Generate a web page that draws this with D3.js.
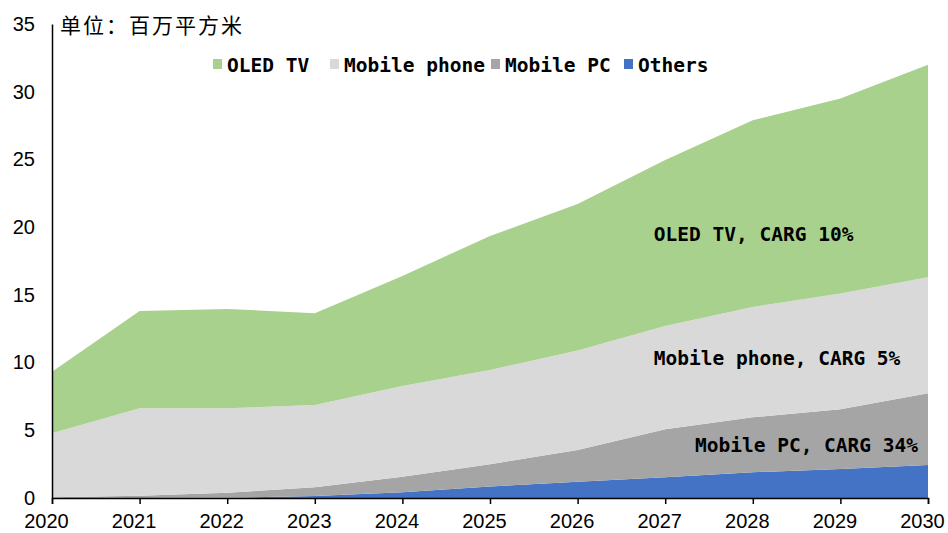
<!DOCTYPE html>
<html>
<head>
<meta charset="utf-8">
<script src="https://cdn.jsdelivr.net/npm/d3@7"></script>
<style>
  body { margin: 0; background: #fff; }
  svg { display: block; }
</style>
</head>
<body>
<svg></svg>
<script>
// years and series (million m2), stacked bottom -> top
const years = [2020, 2021, 2022, 2023, 2024, 2025, 2026, 2027, 2028, 2029, 2030];
const others = [0, 0, 0.02, 0.15, 0.42, 0.84, 1.2, 1.53, 1.9, 2.14, 2.44];
const mobilePC = [0.05, 0.17, 0.37, 0.64, 1.15, 1.65, 2.35, 3.54, 4.06, 4.41, 5.29];
const mobilePhone = [4.73, 6.45, 6.23, 6.08, 6.7, 6.96, 7.35, 7.63, 8.14, 8.55, 8.57];
const oledTV = [4.55, 7.18, 7.34, 6.77, 8.13, 9.9, 10.8, 12.26, 13.8, 14.4, 15.7];
const seriesNames = ["Others", "Mobile PC", "Mobile phone", "OLED TV"];
const legendOrder = ["OLED TV", "Mobile phone", "Mobile PC", "Others"];
const yTicks = [0, 5, 10, 15, 20, 25, 30, 35];
const notes = [
  { text: "OLED TV, CARG 10%", year: 2026.87, value: 19.0 },
  { text: "Mobile phone, CARG 5%", year: 2026.87, value: 9.8 },
  { text: "Mobile PC, CARG 34%", year: 2027.34, value: 3.4 }
];

const width = 948;
const height = 533;
const margin = { left: 52, right: 20, top: 24, bottom: 35 };
const colors = {
  "OLED TV": "#a9d18e",
  "Mobile phone": "#d9d9d9",
  "Mobile PC": "#a5a5a5",
  "Others": "#4472c4"
};
const monoFont = "'DejaVu Sans Mono', 'Liberation Mono', monospace";

const table = years.map((y, i) => ({
  year: y,
  "Others": others[i],
  "Mobile PC": mobilePC[i],
  "Mobile phone": mobilePhone[i],
  "OLED TV": oledTV[i]
}));

const svg = d3.select("svg").attr("width", width).attr("height", height);

const x = d3.scaleLinear()
  .domain([2020, 2030])
  .range([margin.left, width - margin.right]);

const y = d3.scaleLinear()
  .domain([0, 35])
  .range([height - margin.bottom, margin.top]);

const stack = d3.stack().keys(seriesNames);
const layers = stack(table);

const area = d3.area()
  .x(d => x(d.data.year))
  .y0(d => y(d[0]))
  .y1(d => y(d[1]));

svg.append("g")
  .selectAll("path")
  .data(layers)
  .join("path")
  .attr("fill", d => colors[d.key])
  .attr("d", area);

// x axis
const xAxis = svg.append("g")
  .attr("transform", `translate(0, ${y(0)})`)
  .call(d3.axisBottom(x).tickValues(years).tickFormat(d3.format("d")).tickSizeOuter(0).tickSize(6));
xAxis.select(".domain").attr("stroke", "#000").attr("stroke-width", 1.5);
xAxis.selectAll(".tick line").attr("stroke", "#000").attr("stroke-width", 1.5);
xAxis.selectAll("text")
  .attr("font-family", "'Liberation Sans', Arial, sans-serif")
  .attr("font-size", 20)
  .attr("fill", "#000")
  .attr("dx", -6)
  .attr("dy", "1.05em");

// y axis
const yAxis = svg.append("g")
  .attr("transform", `translate(${margin.left}, 0)`)
  .call(d3.axisLeft(y).tickValues(yTicks).tickSize(0).tickSizeOuter(0).tickPadding(17));
yAxis.select(".domain").attr("stroke", "#000").attr("stroke-width", 1.5);
yAxis.selectAll("text")
  .attr("font-family", "'Liberation Sans', Arial, sans-serif")
  .attr("font-size", 20)
  .attr("fill", "#000");

// unit title
svg.append("text")
  .attr("x", 60)
  .attr("y", 33)
  .attr("font-family", "'Noto Sans CJK SC', sans-serif")
  .attr("font-size", 21)
  .attr("letter-spacing", 2)
  .attr("fill", "#000")
  .text("单位：百万平方米");

// legend
const legendX = [213, 330, 491, 624];
const legend = svg.append("g");
legendOrder.forEach((name, i) => {
  legend.append("rect")
    .attr("x", legendX[i])
    .attr("y", 59)
    .attr("width", 9)
    .attr("height", 10)
    .attr("fill", colors[name]);
  legend.append("text")
    .attr("x", legendX[i] + 14)
    .attr("y", 72)
    .attr("font-family", monoFont)
    .attr("font-size", 19.5)
    .attr("font-weight", "bold")
    .attr("fill", "#000")
    .text(name);
});

// annotations
svg.append("g")
  .selectAll("text")
  .data(notes)
  .join("text")
  .attr("x", d => x(d.year))
  .attr("y", d => y(d.value))
  .attr("font-family", monoFont)
  .attr("font-size", 19.5)
  .attr("font-weight", "bold")
  .attr("fill", "#000")
  .text(d => d.text);
</script>
</body>
</html>
